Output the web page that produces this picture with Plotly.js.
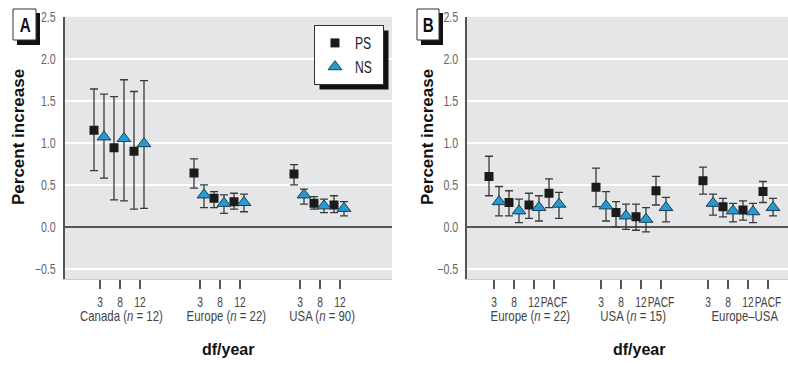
<!DOCTYPE html>
<html><head><meta charset="utf-8">
<script src="https://cdn.plot.ly/plotly-3.0.1.min.js"></script>
<style>
html,body{margin:0;padding:0;background:#fff}
#chart{width:788px;height:365px}
</style>
</head><body><div id="chart"></div>
<script>
// ---------- DATA ----------
// Panel A
const dfA = ["3", "8", "12"];
const regionsA = ["Canada (<i>n</i> = 12)", "Europe (<i>n</i> = 22)", "USA (<i>n</i> = 90)"];
const psA    = [1.15, 0.94, 0.90,  0.64, 0.34, 0.30,  0.63, 0.28, 0.26];
const psA_lo = [0.67, 0.32, 0.21,  0.46, 0.23, 0.21,  0.50, 0.21, 0.17];
const psA_hi = [1.64, 1.55, 1.61,  0.81, 0.42, 0.40,  0.74, 0.36, 0.37];
const nsA    = [1.07, 1.05, 0.99,  0.38, 0.28, 0.29,  0.38, 0.25, 0.22];
const nsA_lo = [0.58, 0.31, 0.22,  0.23, 0.16, 0.18,  0.27, 0.17, 0.13];
const nsA_hi = [1.58, 1.75, 1.74,  0.50, 0.38, 0.39,  0.45, 0.33, 0.30];
// Panel B
const dfB = ["3", "8", "12", "PACF"];
const regionsB = ["Europe (<i>n</i> = 22)", "USA (<i>n</i> = 15)", "Europe–USA"];
const psB    = [0.60, 0.29, 0.26, 0.40,  0.47, 0.17, 0.12, 0.43,  0.55, 0.24, 0.20, 0.42];
const psB_lo = [0.37, 0.13, 0.10, 0.23,  0.24, 0.00, -0.04, 0.26, 0.39, 0.12, 0.08, 0.29];
const psB_hi = [0.84, 0.43, 0.40, 0.57,  0.70, 0.30, 0.27, 0.60,  0.71, 0.34, 0.31, 0.54];
const nsB    = [0.30, 0.19, 0.23, 0.27,  0.25, 0.13, 0.09, 0.23,  0.28, 0.19, 0.18, 0.23];
const nsB_lo = [0.13, 0.05, 0.07, 0.10,  0.07, -0.03, -0.06, 0.06, 0.14, 0.06, 0.05, 0.13];
const nsB_hi = [0.48, 0.33, 0.37, 0.41,  0.42, 0.27, 0.23, 0.35,  0.39, 0.28, 0.28, 0.34];
const seriesNames = ["PS", "NS"];

// ---------- LAYOUT HELPERS ----------
const W = 788, H = 365;
const fx = p => p / W, fy = p => 1 - p / H;
// "narrowmark" is a non-existent family used only to tag texts that get horizontally condensed below
const NARROW = '"Liberation Sans", narrowmark, sans-serif';
const BOLD = '"Liberation Sans", Arial, Helvetica, sans-serif';
const BLUE = '#249bd5';

const startA = [2, 7, 12], startB = [1, 6.35, 11.7];
function tickPos(starts, n) { const t = []; starts.forEach(s => { for (let j = 0; j < n; j++) t.push(s + j); }); return t; }
const ticksA = tickPos(startA, dfA.length), ticksB = tickPos(startB, dfB.length);
const ticktextA = regionsA.flatMap(() => dfA), ticktextB = regionsB.flatMap(() => dfB);

function errY(v, lo, hi) {
  return { type: 'data', symmetric: false, array: v.map((d, i) => hi[i] - d), arrayminus: v.map((d, i) => d - lo[i]),
           color: '#3a3a3a', thickness: 1.3, width: 4 };
}
function psTrace(xs, v, lo, hi, xa, ya, show) {
  return { type: 'scatter', mode: 'markers', name: seriesNames[0], x: xs, y: v, xaxis: xa, yaxis: ya,
    showlegend: show, legendgroup: 'ps', error_y: errY(v, lo, hi),
    marker: { symbol: 'square', size: 9, color: '#1b1b1b', line: { width: 0 } } };
}
function nsTrace(xs, v, lo, hi, xa, ya, show) {
  return { type: 'scatter', mode: 'markers', name: seriesNames[1], x: xs, y: v, xaxis: xa, yaxis: ya,
    showlegend: show, legendgroup: 'ns', error_y: errY(v, lo, hi),
    marker: { symbol: 'triangle-up', size: 12, color: BLUE, line: { width: 1, color: '#1d3d50' } } };
}

const traces = [
  psTrace(ticksA.map(t => t - 0.3), psA, psA_lo, psA_hi, 'x', 'y', true),
  nsTrace(ticksA.map(t => t + 0.2), nsA, nsA_lo, nsA_hi, 'x', 'y', true),
  psTrace(ticksB.map(t => t - 0.25), psB, psB_lo, psB_hi, 'x2', 'y2', false),
  nsTrace(ticksB.map(t => t + 0.25), nsB, nsB_lo, nsB_hi, 'x2', 'y2', false)
];

const yBase = {
  range: [-0.62, 2.5], dtick: 0.5, tick0: 0, tickformat: '.1f',
  domain: [fy(279), fy(16.7)],
  showgrid: true, gridcolor: '#ffffff', gridwidth: 2,
  zeroline: true, zerolinecolor: '#555', zerolinewidth: 1.5,
  showline: true, linecolor: '#555', linewidth: 2, ticks: '',
  ticklabelstandoff: 4,
  tickfont: { family: NARROW, size: 14, color: '#666' }, fixedrange: true
};
const xBase = {
  ticks: 'outside', ticklen: 9, tickwidth: 1.5, tickcolor: '#555', tickangle: 0,
  showgrid: false, zeroline: false, showline: true, linecolor: '#cccccc', linewidth: 1,
  tickfont: { family: NARROW, size: 15, color: '#444' }, fixedrange: true
};

const annotations = [];
// group labels
const grpOffA = [1.08, 1.33, 1.1], grpOffB = [1.8, 1.6, 1.85];
regionsA.forEach((r, i) => annotations.push({ xref: 'x', yref: 'paper', x: startA[i] + grpOffA[i], y: fy(315),
  text: r, showarrow: false, xanchor: 'center', yanchor: 'middle', font: { family: NARROW, size: 15, color: '#444' } }));
regionsB.forEach((r, i) => annotations.push({ xref: 'x2', yref: 'paper', x: startB[i] + grpOffB[i], y: fy(315),
  text: r, showarrow: false, xanchor: 'center', yanchor: 'middle', font: { family: NARROW, size: 15, color: '#444' } }));
// axis titles
[[228], [639]].forEach(([cx]) => annotations.push({ xref: 'paper', yref: 'paper', x: fx(cx), y: fy(349), text: '<b>df/year</b>',
  showarrow: false, xanchor: 'center', yanchor: 'middle', font: { family: BOLD, size: 16, color: '#111' } }));
[[18], [427]].forEach(([cx]) => annotations.push({ xref: 'paper', yref: 'paper', x: fx(cx), y: fy(137), text: '<b>Percent increase</b>',
  textangle: -90, showarrow: false, xanchor: 'center', yanchor: 'middle', font: { family: BOLD, size: 17, color: '#111' } }));
// panel letters
[['A', 24.5, 24.5], ['B', 428, 24.5]].forEach(([t, cx, cy]) => annotations.push({ xref: 'paper', yref: 'paper', x: fx(cx), y: fy(cy),
  text: '<b>' + t + '</b>', showarrow: false, xanchor: 'center', yanchor: 'middle', font: { family: NARROW, size: 20, color: '#111' } }));

function rect(x0, y0, x1, y1, fill, line) {
  return { type: 'rect', xref: 'paper', yref: 'paper', x0: fx(x0), x1: fx(x1), y0: fy(y1), y1: fy(y0), layer: 'above',
    fillcolor: fill, line: line ? { color: line, width: 1 } : { width: 0 } };
}
const shapes = [
  rect(17, 13, 40, 45, '#111', null), rect(13, 9, 36, 40, '#fff', '#333'),
  rect(421, 13, 443, 45, '#111', null), rect(417, 9, 439, 40, '#fff', '#333')
];

const layout = {
  width: W, height: H, margin: { l: 0, r: 0, t: 0, b: 0 },
  paper_bgcolor: '#ffffff', plot_bgcolor: '#e4e6e8',
  xaxis: Object.assign({}, xBase, { domain: [fx(64.5), fx(392)], range: [0.225, 16.6], tickvals: ticksA, ticktext: ticktextA, anchor: 'y' }),
  xaxis2: Object.assign({}, xBase, { domain: [fx(467), 1], range: [-0.35, 15.7], tickvals: ticksB, ticktext: ticktextB, anchor: 'y2' }),
  yaxis: Object.assign({}, yBase, { anchor: 'x' }),
  yaxis2: Object.assign({}, yBase, { anchor: 'x2' }),
  showlegend: true,
  legend: { x: fx(384), y: fy(25), xanchor: 'right', yanchor: 'top', bgcolor: '#ffffff', bordercolor: '#333', borderwidth: 1,
    font: { family: NARROW, size: 16, color: '#222' }, itemwidth: 30, tracegroupgap: 0, traceorder: 'normal' },
  annotations: annotations, shapes: shapes
};

// condense tagged texts horizontally (emulates a narrow typeface)
function condense(gd) {
  gd.querySelectorAll('text').forEach(t => {
    const s = t.getAttribute('style') || '';
    if (s.indexOf('narrowmark') < 0) return;
    const pc = (t.parentNode && t.parentNode.getAttribute('class')) || '';
    const k = /^x\d*tick$/.test(pc) ? 0.68 : 0.76;
    const L = t.getComputedTextLength();
    if (L > 0) { t.setAttribute('textLength', (L * k).toFixed(2)); t.setAttribute('lengthAdjust', 'spacingAndGlyphs'); }
  });
}

Plotly.newPlot('chart', traces, layout, { staticPlot: true, displayModeBar: false }).then(gd => {
  const bg = gd.querySelector('.legend .bg');
  if (!bg) { condense(gd); return; }
  const r = bg.getBoundingClientRect(), g = gd.getBoundingClientRect();
  const x0 = r.left - g.left, y0 = r.top - g.top, x1 = r.right - g.left, y1 = r.bottom - g.top;
  const shadow = rect(x0 + 5, y0 + 5, x1 + 5, y1 + 5, '#111', null);
  return Plotly.relayout(gd, { shapes: shapes.concat([shadow]) }).then(() => condense(gd));
});
</script>
</body></html>
